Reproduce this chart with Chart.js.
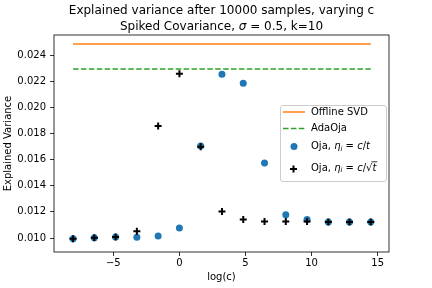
<!DOCTYPE html>
<html>
<head>
<meta charset="utf-8">
<script src="https://cdn.jsdelivr.net/npm/chart.js@4.4.0/dist/chart.umd.min.js"></script>
<style>
  html, body { margin: 0; padding: 0; background: #fff; }
  #wrap { width: 432px; height: 288px; }
</style>
</head>
<body>
<div id="wrap"><canvas id="chart" width="432" height="288"></canvas></div>
<script>
// ── data ──
var logC    = [-8.05, -6.44, -4.83, -3.22, -1.61, 0, 1.61, 3.22, 4.83, 6.44, 8.05, 9.66, 11.27, 12.87, 14.48];
var ojaT    = [0.00995, 0.01002, 0.01008, 0.01005, 0.01015, 0.01077, 0.01704, 0.02252, 0.02183, 0.01574, 0.01177, 0.01141, 0.01123, 0.01123, 0.01123];
var ojaSqrt = [0.00995, 0.01002, 0.01008, 0.01051, 0.01857, 0.02257, 0.01698, 0.01202, 0.01141, 0.01126, 0.01126, 0.01126, 0.01123, 0.01123, 0.01123];
var svdVal  = 0.02484;
var adaVal  = 0.02293;
var xTicks  = [-5, 0, 5, 10, 15];
var yTicks  = [0.010, 0.012, 0.014, 0.016, 0.018, 0.020, 0.022, 0.024];

var titleLine1 = 'Explained variance after 10000 samples, varying c';
var titleLine2 = [{t:'Spiked Covariance, '}, {t:'σ', i:1}, {t:' = 0.5, k=10'}];
var seriesNames = ['Offline SVD', 'AdaOja', 'Oja, ηᵢ = c/t', 'Oja, ηᵢ = c/√t'];
var legendRich = [
  [{t:'Offline SVD'}],
  [{t:'AdaOja'}],
  [{t:'Oja, '}, {t:'η', i:1}, {t:'i', i:1, sub:1}, {t:' = '}, {t:'c', i:1}, {t:'/'}, {t:'t', i:1}],
  [{t:'Oja, '}, {t:'η', i:1}, {t:'i', i:1, sub:1}, {t:' = '}, {t:'c', i:1}, {t:'/'}, {t:'√'}, {t:'t', i:1, over:1}]
];

var FONT = 'DejaVu Sans';
var BLUE = '#1f77b4', ORANGE = '#ff7f0e', GREEN = '#2ca02c';

function pts(xs, ys) { return xs.map(function(x, i){ return {x:x, y:ys[i]}; }); }

function drawRich(ctx, x, y, segs, size) {
  segs.forEach(function(s) {
    var sz = s.sub ? size * 0.7 : size;
    ctx.font = (s.i ? 'italic ' : '') + sz + 'px "' + FONT + '"';
    var w = ctx.measureText(s.t).width;
    ctx.fillText(s.t, x, s.sub ? y + size * 0.25 : y);
    if (s.over) {
      ctx.save(); ctx.lineWidth = 0.8; ctx.strokeStyle = '#000';
      ctx.beginPath(); ctx.moveTo(x - 1, y - size * 0.62); ctx.lineTo(x + w + 1, y - size * 0.62); ctx.stroke();
      ctx.restore();
    }
    x += w;
  });
}
function richWidth(ctx, segs, size) {
  var w = 0;
  segs.forEach(function(s) {
    ctx.font = (s.i ? 'italic ' : '') + (s.sub ? size * 0.7 : size) + 'px "' + FONT + '"';
    w += ctx.measureText(s.t).width;
  });
  return w;
}

// frame, title and the in-axes legend, matplotlib style
var decor = {
  id: 'decor',
  afterDraw: function(c) {
    var ctx = c.ctx, a = c.chartArea;
    ctx.save();
    ctx.strokeStyle = '#000'; ctx.lineWidth = 0.8;
    ctx.strokeRect(a.left, a.top, a.right - a.left, a.bottom - a.top);

    // title
    var cx = (a.left + a.right) / 2;
    ctx.fillStyle = '#000'; ctx.textBaseline = 'middle'; ctx.textAlign = 'center';
    ctx.font = '12px "' + FONT + '"';
    ctx.fillText(titleLine1, cx, 11);
    ctx.textAlign = 'left';
    drawRich(ctx, cx - richWidth(ctx, titleLine2, 12) / 2, 27, titleLine2, 12);

    // legend
    var bx = 280.5, by = 105.5, bw = 106, bh = 76;
    ctx.beginPath();
    ctx.roundRect(bx, by, bw, bh, 2.5);
    ctx.fillStyle = 'rgba(255,255,255,0.8)'; ctx.fill();
    ctx.strokeStyle = '#cccccc'; ctx.lineWidth = 1; ctx.stroke();

    var rows = [112, 128.5, 146.5, 168];
    ctx.lineWidth = 1.5;
    ctx.strokeStyle = ORANGE;
    ctx.beginPath(); ctx.moveTo(283, rows[0]); ctx.lineTo(305, rows[0]); ctx.stroke();
    ctx.strokeStyle = GREEN; ctx.setLineDash([5.5, 2.4]);
    ctx.beginPath(); ctx.moveTo(283, rows[1]); ctx.lineTo(305, rows[1]); ctx.stroke();
    ctx.setLineDash([]);
    ctx.fillStyle = BLUE;
    ctx.beginPath(); ctx.arc(294, rows[2], 3.5, 0, Math.PI * 2); ctx.fill();
    ctx.strokeStyle = '#000'; ctx.lineWidth = 2;
    ctx.beginPath();
    ctx.moveTo(290, rows[3] + 1); ctx.lineTo(297, rows[3] + 1);
    ctx.moveTo(293.5, rows[3] - 2.5); ctx.lineTo(293.5, rows[3] + 4.5);
    ctx.stroke();

    ctx.fillStyle = '#000'; ctx.textAlign = 'left'; ctx.textBaseline = 'middle';
    legendRich.forEach(function(segs, i) { drawRich(ctx, 311, rows[i], segs, 10); });
    ctx.restore();
  }
};

Chart.defaults.font.family = FONT;
Chart.defaults.font.size = 10;
Chart.defaults.color = '#000';

new Chart(document.getElementById('chart'), {
  type: 'scatter',
  data: {
    datasets: [
      {label: seriesNames[0], data: pts([logC[0], logC[logC.length - 1]], [svdVal, svdVal]),
       showLine: true, borderColor: ORANGE, borderWidth: 1.5, pointRadius: 0, order: 4},
      {label: seriesNames[1], data: pts([logC[0], logC[logC.length - 1]], [adaVal, adaVal]),
       showLine: true, borderColor: GREEN, borderWidth: 1.5, borderDash: [5.5, 2.4], pointRadius: 0, order: 3},
      {label: seriesNames[2], data: pts(logC, ojaT),
       backgroundColor: BLUE, borderColor: BLUE, borderWidth: 0, pointRadius: 3.5, order: 2},
      {label: seriesNames[3], data: pts(logC, ojaSqrt),
       pointStyle: 'cross', borderColor: '#000', borderWidth: 2, pointRadius: 3.5, order: 1}
    ]
  },
  plugins: [decor],
  options: {
    responsive: false, animation: false, devicePixelRatio: 1,
    layout: {padding: {left: 0, right: 43, top: 35, bottom: 0}},
    plugins: {legend: {display: false}, title: {display: false}, tooltip: {enabled: false}},
    scales: {
      x: {
        type: 'linear', min: -9.49, max: 15.86,
        afterBuildTicks: function(s){ s.ticks = xTicks.map(function(v){ return {value: v}; }); },
        afterFit: function(s){ s.height = 36; },
        border: {display: false},
        grid: {display: true, drawOnChartArea: false, drawTicks: true, tickLength: 4, color: '#000', lineWidth: 0.8},
        ticks: {padding: 1, maxRotation: 0, callback: function(v){ return v < 0 ? '−' + Math.abs(v) : String(v); }},
        title: {display: true, text: 'log(c)', padding: {top: 0, bottom: 5}}
      },
      y: {
        type: 'linear', min: 0.00893, max: 0.02553,
        afterBuildTicks: function(s){ s.ticks = yTicks.map(function(v){ return {value: v}; }); },
        afterFit: function(s){ s.width = 54; },
        border: {display: false},
        grid: {display: true, drawOnChartArea: false, drawTicks: true, tickLength: 4, color: '#000', lineWidth: 0.8},
        ticks: {padding: 4, callback: function(v){ return v.toFixed(3); }},
        title: {display: true, text: 'Explained Variance', padding: {top: 2, bottom: 0}}
      }
    }
  }
});
</script>
</body>
</html>
